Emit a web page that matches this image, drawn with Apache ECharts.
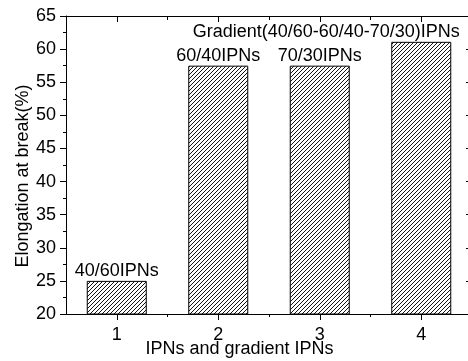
<!DOCTYPE html>
<html>
<head>
<meta charset="utf-8">
<script src="https://cdn.jsdelivr.net/npm/echarts@6/dist/echarts.min.js"></script>
<style>
  html, body { margin: 0; padding: 0; background: #fff; }
  #chart { width: 468px; height: 361px; }
</style>
</head>
<body>
<div id="chart"></div>
<script>
// data
const categories = [1, 2, 3, 4];
const elongation = [25, 57.5, 57.5, 61.1];
const barLabels = ['40/60IPNs', '60/40IPNs', '70/30IPNs', 'Gradient(40/60-60/40-70/30)IPNs'];
const minorX = [1.5, 2.5, 3.5];

const font = 'Arial, "Liberation Sans", sans-serif';

// hatch pattern "///"
function makeHatch() {
  const c = document.createElement('canvas');
  c.width = 4; c.height = 4;
  const ctx = c.getContext('2d');
  ctx.fillStyle = '#fff';
  ctx.fillRect(0, 0, 4, 4);
  ctx.fillStyle = '#111';
  for (let i = 0; i < 4; i++) ctx.fillRect(i, 3 - i, 1, 1);
  return c;
}
const hatch = makeHatch();

const chart = echarts.init(document.getElementById('chart'));

const axisLine = { show: true, lineStyle: { color: '#000', width: 1 } };

const barData = categories.map((c, i) => {
  const item = { value: [c, elongation[i]] };
  if (i === 3) item.label = { offset: [-95, 0] };
  return item;
});

chart.setOption({
  animation: false,
  backgroundColor: '#fff',
  grid: { left: 66, right: -4, top: 16, bottom: 47, outerBoundsMode: 'none', containLabel: false },
  xAxis: [
    {
      type: 'value', position: 'bottom', min: 0.5, max: 4.5,
      axisLine: axisLine,
      axisTick: { show: true, inside: false, length: 6, customValues: categories, lineStyle: { color: '#000' } },
      axisLabel: { customValues: categories, fontSize: 18, color: '#000', fontFamily: font, margin: 12 },
      splitLine: { show: false },
      name: 'IPNs and gradient IPNs', nameLocation: 'middle', nameGap: 26, nameMoveOverlap: false,
      nameTextStyle: { fontSize: 18, color: '#000', fontFamily: font, verticalAlign: 'top', padding: [0, 59, 0, 0] }
    },
    {
      type: 'value', position: 'bottom', min: 0.5, max: 4.5,
      axisLine: { show: false },
      axisTick: { show: true, inside: false, length: 3, customValues: minorX, lineStyle: { color: '#000' } },
      axisLabel: { show: false },
      splitLine: { show: false }
    },
    {
      type: 'value', position: 'top', min: 0.5, max: 4.5,
      axisLine: axisLine,
      axisTick: { show: true, inside: true, length: 6, customValues: categories, lineStyle: { color: '#000' } },
      axisLabel: { show: false },
      splitLine: { show: false }
    },
    {
      type: 'value', position: 'top', min: 0.5, max: 4.5,
      axisLine: { show: false },
      axisTick: { show: true, inside: true, length: 4, customValues: minorX, lineStyle: { color: '#000' } },
      axisLabel: { show: false },
      splitLine: { show: false }
    }
  ],
  yAxis: [
    {
      type: 'value', position: 'left', min: 20, max: 65, interval: 5,
      axisLine: axisLine,
      axisTick: { show: true, inside: false, length: 6, lineStyle: { color: '#000' } },
      minorTick: { show: true, splitNumber: 2, length: 3, lineStyle: { color: '#000' } },
      axisLabel: { fontSize: 18, color: '#000', fontFamily: font, margin: 10 },
      splitLine: { show: false },
      name: 'Elongation at break(%)', nameLocation: 'middle', nameGap: 34, nameMoveOverlap: false,
      nameTextStyle: { fontSize: 18, color: '#000', fontFamily: font, padding: [0, 22, 0, 0] }
    },
    {
      type: 'value', position: 'right', min: 20, max: 65, interval: 5,
      axisLine: axisLine,
      axisTick: { show: true, inside: true, length: 6, lineStyle: { color: '#000' } },
      minorTick: { show: true, splitNumber: 2, length: 3, lineStyle: { color: '#000' } },
      axisLabel: { show: false },
      splitLine: { show: false }
    }
  ],
  series: [{
    type: 'bar',
    xAxisIndex: 0,
    yAxisIndex: 0,
    barWidth: 60,
    data: barData,
    itemStyle: {
      color: { image: hatch, repeat: 'repeat' },
      borderColor: '#000',
      borderWidth: 1
    },
    label: {
      show: true,
      position: 'top',
      distance: 1,
      fontSize: 18,
      color: '#000',
      fontFamily: font,
      formatter: p => barLabels[p.dataIndex]
    }
  }]
});
</script>
</body>
</html>
